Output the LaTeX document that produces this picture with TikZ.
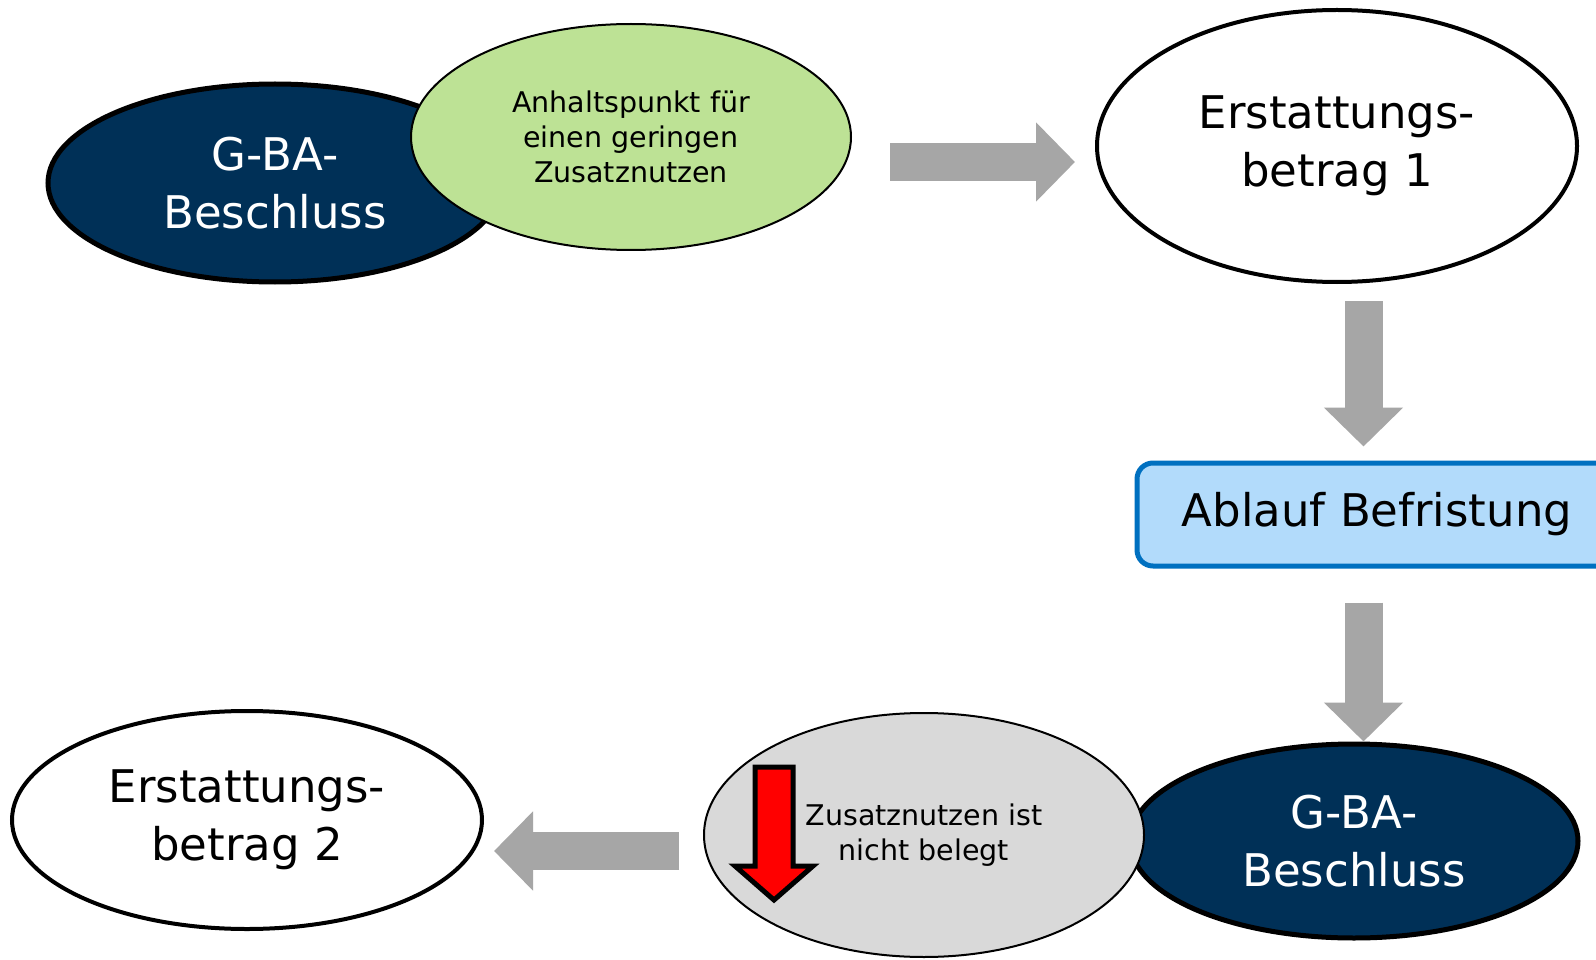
\documentclass[tikz,border=0pt]{standalone}
\usepackage{fontspec}
\setmainfont{DejaVu Sans}
\usepackage{tikz}
\usetikzlibrary{shapes.geometric, arrows.meta, calc}

\definecolor{navy}{HTML}{003057}
\definecolor{lightgreen}{HTML}{BDE295}
\definecolor{lightgray}{HTML}{D9D9D9}
\definecolor{arrowgray}{HTML}{A6A6A6}
\definecolor{boxblue}{HTML}{B2DBFB}
\definecolor{edgeblue}{HTML}{0070C0}

\tikzset{
    bigtext/.style={font=\fontsize{45}{58}\selectfont, align=center},
    smalltext/.style={font=\fontsize{28.5}{35}\selectfont, align=center},
    oval/.style={ellipse, draw=black, inner sep=0pt},
    grayarrow/.style={draw=arrowgray, line width=38pt, -{Triangle[length=39pt, width=77pt]}}
}

\begin{document}
\begin{tikzpicture}[x=1pt, y=-1pt]
    \useasboundingbox[fill=white] (0,0) rectangle (1596,960);

    % First decision
    \node[oval, bigtext, fill=navy, text=white, line width=5pt, minimum width=454pt, minimum height=198pt] (gba1) at (275,183) {G-BA-\\Beschluss};
    \node[oval, smalltext, fill=lightgreen, line width=2pt, minimum width=440pt, minimum height=226pt] (anhalt) at (631,137) {Anhaltspunkt für\\einen geringen\\Zusatznutzen};
    \node[oval, bigtext, fill=white, line width=4pt, minimum width=480pt, minimum height=272pt] (erst1) at (1337,146) {Erstattungs-\\betrag 1};

    % Expiry
    \node[bigtext, draw=edgeblue, fill=boxblue, line width=5pt, rounded corners=16pt, minimum width=480pt, minimum height=103pt] (ablauf) at (1377,514.5) {Ablauf Befristung};

    % Second decision
    \node[oval, bigtext, fill=navy, text=white, line width=5pt, minimum width=448pt, minimum height=194pt] (gba2) at (1354,841) {G-BA-\\Beschluss};
    \node[oval, smalltext, fill=lightgray, line width=2pt, minimum width=440pt, minimum height=244pt] (belegt) at (924,835) {Zusatznutzen ist\\nicht belegt};
    \node[oval, bigtext, fill=white, line width=4pt, minimum width=470pt, minimum height=218pt] (erst2) at (247,820) {Erstattungs-\\betrag 2};

    % Red down arrow
    \draw[line width=5pt, fill=red, line join=miter] (755,767) -- (793,767) -- (793,866) -- (813,866) -- (774,900) -- (735,866) -- (755,866) -- cycle;

    % Flow arrows
    \draw[grayarrow] ($(anhalt.east)+(38,25)$) -- ($(erst1.west)+(-20,16)$);
    \draw[grayarrow] ($(erst1.south)+(26.5,17)$) -- ($(ablauf.north)+(-13.5,-14)$);
    \draw[grayarrow] ($(ablauf.south)+(-13.5,34)$) -- ($(gba2.north)+(9.5,0)$);
    \draw[grayarrow] ($(belegt.west)+(-24,16)$) -- ($(erst2.east)+(10,31)$);
\end{tikzpicture}
\end{document}
